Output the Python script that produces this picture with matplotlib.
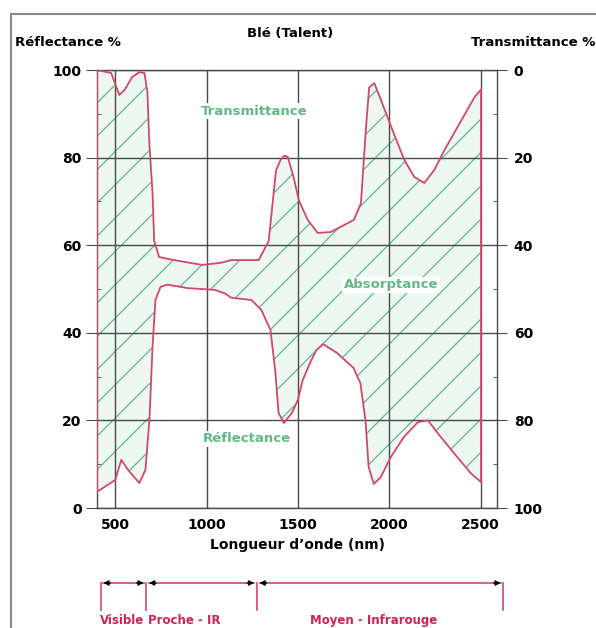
import numpy as np
import matplotlib
matplotlib.use("Agg")
import matplotlib.pyplot as plt
from matplotlib.ticker import MultipleLocator
from matplotlib.lines import Line2D
import matplotlib.transforms as mtransforms

plt.rcParams["font.family"] = ["DejaVu Sans"]
plt.rcParams["font.weight"] = "bold"
plt.rcParams["hatch.linewidth"] = 0.9

# reflectance curve (left axis, %)
refl_nm = [400, 500, 533, 570, 632, 665, 687, 704, 720, 748, 786, 896, 1045, 1100,
           1135, 1245, 1300, 1350, 1377, 1394, 1423, 1467, 1500, 1525, 1565, 1600,
           1638, 1714, 1804, 1842, 1870, 1887, 1915, 1953, 2008, 2080, 2157, 2212,
           2267, 2355, 2445, 2500]
refl = [3.7, 6.4, 11, 8.7, 5.7, 8.7, 20, 36.8, 47.5, 50.5, 51, 50.2, 49.8, 49,
        48, 47.5, 45.2, 40.6, 30.8, 21.7, 19.4, 21.7, 24.7, 29, 33, 36,
        37.4, 35.4, 32, 28.5, 20, 9.4, 5.5, 7, 11.6, 16.2, 19.6, 20,
        17, 12.5, 8, 6]

# transmittance curve (right axis, inverted, %)
trans_nm = [400, 478, 522, 550, 593, 632, 660, 676, 687, 704, 713, 740, 822, 976,
            1080, 1135, 1286, 1340, 1380, 1405, 1425, 1444, 1476, 1505, 1553, 1608,
            1680, 1807, 1845, 1873, 1890, 1918, 1956, 2011, 2082, 2137, 2192, 2247,
            2302, 2396, 2467, 2500]
trans = [0, 0.7, 5.7, 4.6, 1.6, 0.5, 0.7, 5, 17, 28, 39, 42.7, 43.4, 44.5,
         44, 43.4, 43.4, 39, 23, 20.5, 19.6, 19.8, 24.4, 29.7, 34.2, 37.2,
         37, 34.2, 30.4, 13, 4, 3, 7, 13, 20.5, 24.4, 25.8, 22.8,
         18.3, 11.4, 6.2, 4.6]

xticks = [500, 1000, 1500, 2000, 2500]
yticks = [0, 20, 40, 60, 80, 100]

# spectral bands under the chart
band_edges = [420, 670, 1275, 2625]
band_names = ["Visible", "Proche - IR", "Moyen - Infrarouge"]
band_label_x = [535, 880, 1917]

red = "#d4476c"
green = "#62b985"
grid_c = "#4a4a4a"

fig = plt.figure(figsize=(5.96, 6.28), dpi=100)
ax = fig.add_axes([97 / 596, 1 - 508 / 628, 400 / 596, 438 / 628])

upper = 100 - np.array(trans)
poly_x = np.concatenate([refl_nm, trans_nm[::-1]])
poly_y = np.concatenate([refl, upper[::-1]])
ax.fill(poly_x, poly_y, facecolor="#eef8f2", edgecolor=green, hatch="/",
        linewidth=0, zorder=1)

ax.plot(refl_nm, refl, color=red, lw=1.3, zorder=3)
ax.plot(trans_nm, upper, color=red, lw=1.3, zorder=3)
ax.plot([refl_nm[0], trans_nm[0]], [refl[0], upper[0]], color=red, lw=1.3, zorder=3)
ax.plot([refl_nm[-1], trans_nm[-1]], [refl[-1], upper[-1]], color=red, lw=1.3, zorder=3)

ax.set_xlim(400, 2590)
ax.set_ylim(0, 100)
ax.set_xticks(xticks)
ax.set_yticks(yticks)
ax.yaxis.set_minor_locator(MultipleLocator(10))
ax.grid(True, color=grid_c, lw=1)
ax.set_axisbelow(False)
for s in ax.spines.values():
    s.set_color(grid_c)
    s.set_linewidth(1)
ax.tick_params(axis="x", length=0, pad=7, labelsize=10)
ax.tick_params(axis="y", which="major", length=8, pad=3, labelsize=10, color=grid_c)
ax.tick_params(axis="y", which="minor", length=3, direction="in", color=grid_c)

ax2 = ax.twinx()
ax2.set_ylim(100, 0)
ax2.set_yticks(yticks)
ax2.yaxis.set_minor_locator(MultipleLocator(10))
ax2.tick_params(axis="y", which="major", length=7, pad=5, labelsize=10, color=grid_c)
ax2.tick_params(axis="y", which="minor", length=3, direction="in", color=grid_c)
for s in ax2.spines.values():
    s.set_visible(False)

box = dict(facecolor="white", edgecolor="none", pad=1)
ax.text(1260, 90.6, "Transmittance", color=green, fontsize=9.5, ha="center",
        va="center", bbox=box, zorder=4)
ax.text(2010, 51, "Absorptance", color=green, fontsize=9.5, ha="center",
        va="center", bbox=box, zorder=4)
ax.text(1221, 15.8, "Réflectance", color=green, fontsize=9.5, ha="center",
        va="center", bbox=box, zorder=4)

fig.text(290 / 596, 1 - 33 / 628, "Blé (Talent)", ha="center", va="center", fontsize=9.5)
fig.text(15 / 596, 1 - 43 / 628, "Réflectance %", ha="left", va="center", fontsize=9.5)
fig.text(595 / 596, 1 - 43 / 628, "Transmittance %", ha="right", va="center", fontsize=9.5)
fig.text(297 / 596, 1 - 545 / 628, "Longueur d’onde (nm)", ha="center", va="center",
         fontsize=10)

# outer frame (only top and left visible in the crop)
fig.add_artist(Line2D([11 / 596, 1], [1 - 14 / 628] * 2, transform=fig.transFigure,
                      color="#8a8a8a", lw=1.5))
fig.add_artist(Line2D([11 / 596] * 2, [0, 1 - 14 / 628], transform=fig.transFigure,
                      color="#8a8a8a", lw=1.5))

# band arrows
tr = mtransforms.blended_transform_factory(ax.transData, fig.transFigure)
y_arrow = 1 - 583 / 628
y_bar = 1 - 610 / 628
for e in band_edges:
    ax.plot([e, e], [y_arrow, y_bar], color=red, lw=1.2, transform=tr, clip_on=False)
for a, b in zip(band_edges[:-1], band_edges[1:]):
    ax.plot([a + 15, b - 15], [y_arrow, y_arrow], color=red, lw=1.2, transform=tr,
            clip_on=False)
    for tip, tail in [(a + 15, a + 55), (b - 15, b - 55)]:
        ax.annotate("", xy=(tip, y_arrow), xytext=(tail, y_arrow), xycoords=tr,
                    textcoords=tr, annotation_clip=False,
                    arrowprops=dict(arrowstyle="-|>", color="black", lw=0.8,
                                    mutation_scale=8, shrinkA=0, shrinkB=0))
for name, lx in zip(band_names, band_label_x):
    ax.text(lx, 1 - 614 / 628, name, transform=tr, color="#d2224f", fontsize=8.5,
            ha="center", va="top", clip_on=False)

fig.savefig("out.png", dpi=100)
